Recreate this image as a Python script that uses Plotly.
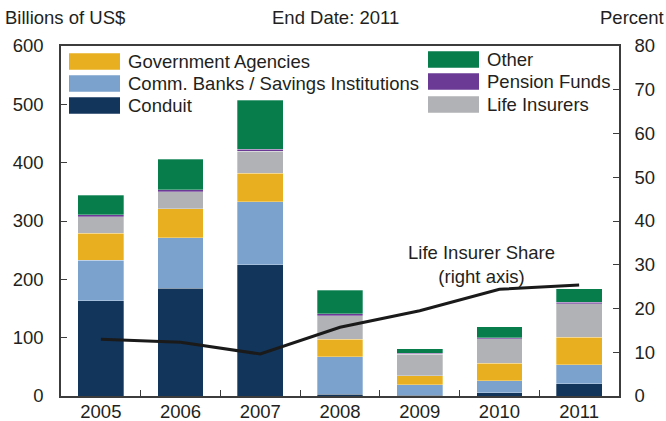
import plotly.graph_objects as go

# data
years = ["2005", "2006", "2007", "2008", "2009", "2010", "2011"]
conduit = [163, 185, 225, 3, 1, 6, 21]
comm_banks = [70, 86, 108, 64, 18, 20, 33]
gov_agencies = [46, 50, 49, 30, 16, 30, 47]
life_insurers = [28, 29, 38, 41, 37, 42, 57]
pension_funds = [4, 4, 3, 3, 1, 2, 3]
other = [33, 52, 84, 40, 8, 19, 23]
life_share = [13.0, 12.3, 9.6, 15.7, 19.5, 24.4, 25.4]

left_ticks = [0, 100, 200, 300, 400, 500, 600]
right_ticks = [0, 10, 20, 30, 40, 50, 60, 70, 80]

FONT = "Liberation Sans, Arial, sans-serif"
TXT = "#231f20"
AX = "#3c3c3c"
FS = 18.5

series = [
    ("Conduit", conduit, "#12355b"),
    ("Comm. Banks / Savings Institutions", comm_banks, "#7ba2cd"),
    ("Government Agencies", gov_agencies, "#e8b021"),
    ("Life Insurers", life_insurers, "#b1b2b5"),
    ("Pension Funds", pension_funds, "#6a3a95"),
    ("Other", other, "#067d4b"),
]
colors = {name: c for name, _, c in series}

fig = go.Figure()
for name, vals, col in series:
    fig.add_trace(go.Bar(
        x=years, y=vals, name=name, marker_color=col,
        marker_line=dict(color="rgba(255,255,255,0.6)", width=0.5),
        width=0.575, showlegend=False,
    ))

fig.add_trace(go.Scatter(
    x=years, y=life_share, yaxis="y2", mode="lines",
    line=dict(color="#1a1a1a", width=3), showlegend=False,
))

# plot area in pixels (used to place the hand-made legend and labels)
W, H = 666, 421
PL, PR, PT, PB = 61, 619, 46, 396


def px(x, y):
    return (x - PL) / (PR - PL), (PB - y) / (PB - PT)


# hand-made legend with wide swatches, as in the original
legend_left = ["Government Agencies", "Comm. Banks / Savings Institutions", "Conduit"]
legend_right = ["Other", "Pension Funds", "Life Insurers"]
for names, x0, rows in [(legend_left, 69, [61.5, 83.5, 105.5]),
                        (legend_right, 428, [59.5, 81.5, 104.5])]:
    for name, yc in zip(names, rows):
        xa, ya = px(x0, yc - 8.3)
        xb, yb = px(x0 + 51, yc + 8.3)
        fig.add_shape(type="rect", xref="paper", yref="paper",
                      x0=xa, x1=xb, y0=yb, y1=ya,
                      fillcolor=colors[name], line_width=0, layer="above")
        tx, ty = px(x0 + 57, yc)
        fig.add_annotation(xref="paper", yref="paper", x=tx, y=ty,
                           text=name, showarrow=False, xanchor="left",
                           yanchor="middle", font=dict(size=FS, color=TXT))

for text, x, y, anchor in [("Billions of US$", 3, 18, "left"),
                           ("End Date: 2011", 335, 18, "center"),
                           ("Percent", 666, 18, "right")]:
    ax_, ay_ = px(x, y)
    fig.add_annotation(xref="paper", yref="paper", x=ax_, y=ay_, text=text,
                       showarrow=False, xanchor=anchor, yanchor="middle",
                       font=dict(size=FS, color=TXT))

lx, ly = px(481, 264)
fig.add_annotation(xref="paper", yref="paper", x=lx, y=ly,
                   text="Life Insurer Share<br>(right axis)", showarrow=False,
                   xanchor="center", yanchor="middle", align="center",
                   font=dict(size=FS, color=TXT))

fig.update_layout(
    width=W, height=H,
    margin=dict(l=PL, r=W - PR, t=PT, b=H - PB),
    barmode="stack",
    plot_bgcolor="white", paper_bgcolor="white",
    font=dict(family=FONT, size=FS, color=TXT),
    xaxis=dict(
        type="category", range=[-0.5, 6.5], automargin=False,
        showline=True, linecolor=AX, linewidth=1.5, mirror=True,
        ticks="inside", tickson="boundaries", ticklen=6, tickcolor=AX,
        ticklabelstandoff=-2, showgrid=False,
    ),
    yaxis=dict(
        range=[0, 600], tickvals=left_ticks, automargin=False,
        showline=True, linecolor=AX, linewidth=1.5,
        ticks="inside", ticklen=6, tickcolor=AX, ticklabelstandoff=12,
        showgrid=False, zeroline=False,
    ),
    yaxis2=dict(
        range=[0, 80], tickvals=right_ticks, overlaying="y", side="right",
        automargin=False,
        showline=True, linecolor=AX, linewidth=1.5,
        ticks="inside", ticklen=6, tickcolor=AX, ticklabelstandoff=10,
        showgrid=False, zeroline=False,
    ),
)

# drop the page's default body margin so the figure sits at the corner
fig.write_html("out.html", config={"displayModeBar": False},
               post_script="document.body.style.margin='0';")
